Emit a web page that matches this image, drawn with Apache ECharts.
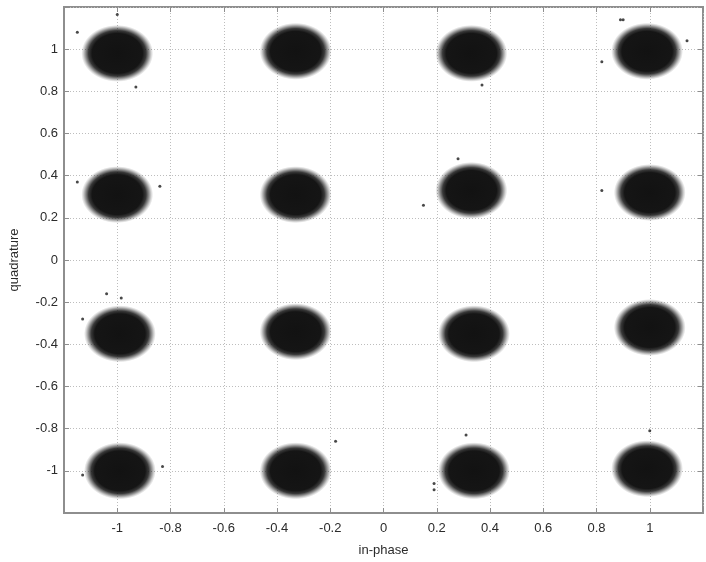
<!DOCTYPE html>
<html>
<head>
    <meta charset="utf-8">
    <title>16-QAM constellation</title>
    <script src="https://cdn.jsdelivr.net/npm/echarts@6/dist/echarts.min.js"></script>
    <style type="text/css">
    html, body { margin: 0; padding: 0; background: #fff; }
    #main { width: 706px; height: 562px; }
    </style>
</head>
<body>
    <div id="main"></div>
    <script>
        // cluster centres (in-phase, quadrature)
        var clusterI = [-1.00, -0.33, 0.33, 0.99,
                        -1.00, -0.33, 0.33, 1.00,
                        -0.99, -0.33, 0.34, 1.00,
                        -0.99, -0.33, 0.34, 0.99];
        var clusterQ = [ 0.98,  0.99, 0.98, 0.99,
                         0.31,  0.31, 0.33, 0.32,
                        -0.35, -0.34, -0.35, -0.32,
                        -1.00, -1.00, -1.00, -0.99];
        // stray samples that stand clear of the clusters
        var strayI = [-1.00, -1.15, -0.93, -1.15, -0.84, 0.15, -0.18, 0.31, 0.19, 0.19,
                      -1.13, -0.83, 1.00, 0.82, 0.89, 0.90, 1.14, 0.82, 0.37, -1.13,
                      -1.04, -0.985, 0.28];
        var strayQ = [1.165, 1.08, 0.82, 0.37, 0.35, 0.26, -0.86, -0.83, -1.06, -1.09,
                      -1.02, -0.98, -0.81, 0.94, 1.14, 1.14, 1.04, 0.33, 0.83, -0.28,
                      -0.16, -0.18, 0.48];
        var tickValues = [-1, -0.8, -0.6, -0.4, -0.2, 0, 0.2, 0.4, 0.6, 0.8, 1];

        var cloud = [0.135, 0.135]; // outer spread of a cluster in axis units

        var chart = echarts.init(document.getElementById('main'));

        function tickLabel(v) {
            var r = Math.round(v * 10) / 10;
            return tickValues.indexOf(r) < 0 ? '' : String(r);
        }

        var labelStyle = {
            color: '#2b2b2b',
            fontSize: 13,
            fontFamily: 'Liberation Sans, Arial, sans-serif'
        };
        var tickStyle = { show: true, inside: true, length: 5, lineStyle: { color: '#8e8e8e' } };
        var gridLine = { show: true, lineStyle: { color: '#bdbdbd', type: [1, 2], width: 1 } };

        var centres = clusterI.map(function (v, i) { return [v, clusterQ[i]]; });
        var strays = strayI.map(function (v, i) { return [v, strayQ[i]]; });

        var option = {
            backgroundColor: '#fff',
            animation: false,
            grid: {
                left: 55, right: 2, top: 7, bottom: 46,
                show: true,
                borderColor: '#8e8e8e',
                borderWidth: 2
            },
            xAxis: [{
                type: 'value',
                min: -1.2, max: 1.2, interval: 0.2,
                name: 'in-phase',
                nameLocation: 'middle',
                nameGap: 31,
                nameTextStyle: labelStyle,
                axisLine: { show: true, onZero: false, lineStyle: { color: '#8e8e8e', width: 2 } },
                axisTick: tickStyle,
                axisLabel: Object.assign({ margin: 9, formatter: tickLabel }, labelStyle),
                splitLine: gridLine
            }, {
                type: 'value',
                position: 'top',
                min: -1.2, max: 1.2, interval: 0.2,
                axisLine: { show: false, onZero: false },
                axisTick: tickStyle,
                axisLabel: { show: false },
                splitLine: { show: false }
            }],
            yAxis: [{
                type: 'value',
                min: -1.2, max: 1.2, interval: 0.2,
                name: 'quadrature',
                nameLocation: 'middle',
                nameGap: 43,
                nameTextStyle: labelStyle,
                axisLine: { show: true, onZero: false, lineStyle: { color: '#8e8e8e', width: 2 } },
                axisTick: tickStyle,
                axisLabel: Object.assign({ margin: 6, formatter: tickLabel }, labelStyle),
                splitLine: gridLine
            }, {
                type: 'value',
                position: 'right',
                min: -1.2, max: 1.2, interval: 0.2,
                axisLine: { show: false, onZero: false },
                axisTick: tickStyle,
                axisLabel: { show: false },
                splitLine: { show: false }
            }],
            series: [{
                name: 'clusters',
                type: 'custom',
                xAxisIndex: 0,
                yAxisIndex: 0,
                data: centres,
                renderItem: function (params, api) {
                    var c = api.coord([api.value(0), api.value(1)]);
                    var s = api.size(cloud);
                    return {
                        type: 'circle',
                        shape: { cx: c[0], cy: c[1], r: s[1] },
                        originX: c[0],
                        originY: c[1],
                        scaleX: s[0] / s[1],
                        style: {
                            fill: {
                                type: 'radial', x: 0.5, y: 0.5, r: 0.5,
                                colorStops: [
                                    { offset: 0, color: '#121212' },
                                    { offset: 0.7, color: '#151515' },
                                    { offset: 0.8, color: 'rgba(22,22,22,0.85)' },
                                    { offset: 0.88, color: 'rgba(30,30,30,0.5)' },
                                    { offset: 0.95, color: 'rgba(40,40,40,0.18)' },
                                    { offset: 1, color: 'rgba(40,40,40,0)' }
                                ]
                            }
                        }
                    };
                }
            }, {
                name: 'strays',
                type: 'scatter',
                xAxisIndex: 0,
                yAxisIndex: 0,
                symbolSize: 3,
                itemStyle: { color: '#1a1a1a' },
                data: strays
            }]
        };
        chart.setOption(option);
    </script>
</body>
</html>
